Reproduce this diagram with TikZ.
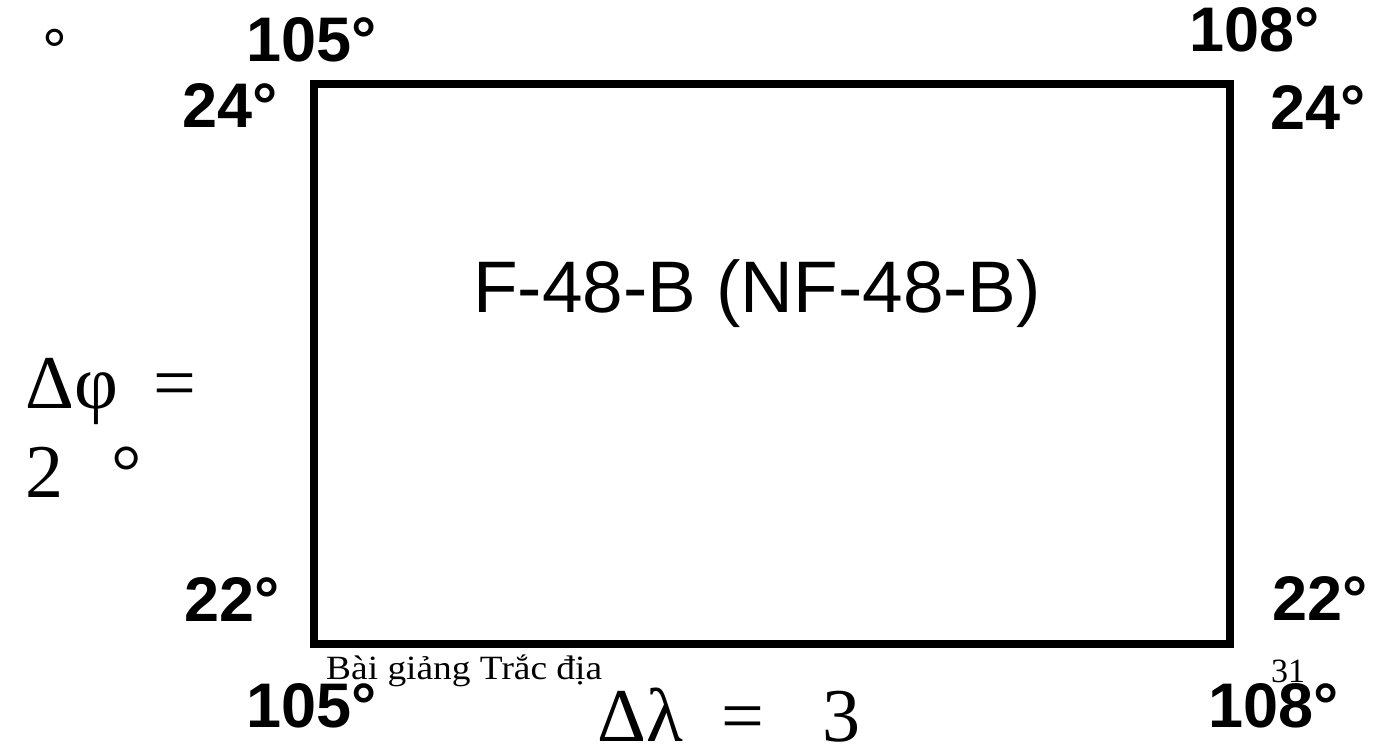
\documentclass[tikz,border=0pt]{standalone}
\usepackage{fontspec}
\setmainfont{Liberation Serif}
\newfontfamily\sansf{Liberation Sans}
\begin{document}
\begin{tikzpicture}[x=1pt,y=-1pt,
  deg/.style={font=\sansf\bfseries\fontsize{63}{63}\selectfont, inner sep=0pt, anchor=base west},
  bigserif/.style={font=\fontsize{76}{76}\selectfont, inner sep=0pt, anchor=base west},
  smallserif/.style={font=\fontsize{34}{34}\selectfont, inner sep=0pt, anchor=base west},
  frame/.style={draw=black, line width=8pt, inner sep=0pt, minimum width=915.5pt, minimum height=559.5pt}]
\useasboundingbox[fill=white] (0,0) rectangle (1384,749);
\node[frame] (map) at (771.75,363.75) {};
\node[inner sep=0pt, anchor=base west, font=\sansf\fontsize{62}{62}\selectfont] (lone) at (42,73) {°};
\node[deg] (t105) at (246,62) {105°};
\node[deg] (t108) at (1189,52) {108°};
\node[deg] (l24) at (182,128) {24°};
\node[deg] (r24) at (1270,130) {24°};
\node[deg] (l22) at (184,621) {22°};
\node[deg] (r22) at (1272,620) {22°};
\node[deg] (b105) at (246,727) {105°};
\node[deg] (b108) at (1208,727) {108°};
\node[inner sep=0pt, anchor=base west, font=\sansf\fontsize{73}{73}\selectfont] (title) at (473,312) {F-48-B (NF-48-B)};
\node[bigserif] (phi1) at (25,408) {Δφ\hspace{36pt}=};
\node[bigserif] (phi2) at (25,497) {2\hspace{48pt}°};
\node[bigserif] (lam) at (597,741) {Δλ\hspace{39pt}=\hspace{58pt}3};
\node[smallserif, xscale=1.1] (foot) at (326,679) {Bài giảng Trắc địa};
\node[smallserif] (page) at (1271,682) {31};
\end{tikzpicture}
\end{document}
